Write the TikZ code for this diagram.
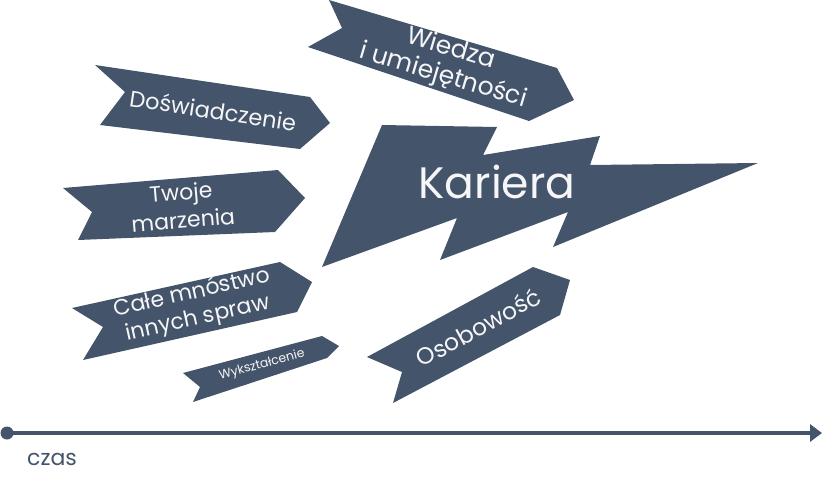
\documentclass[tikz,border=0pt]{standalone}
\usepackage{fontspec}
\setmainfont{Poppins}
\usetikzlibrary{arrows.meta}
\definecolor{slate}{HTML}{44546A}
\tikzset{
  banner/.style={fill=slate, draw=none},
  btext/.style={text=white!95!slate, align=center, inner sep=0pt},
}
\begin{document}
\begin{tikzpicture}[x=1pt,y=-1pt]
\useasboundingbox (0,0) rectangle (840,480);
% Wiedza
\fill[banner] (329,0) -- (557,68) -- (574,100) -- (529,121) -- (308,47) -- (342,28) -- cycle;
\node[btext, rotate=-16.5, font=\fontsize{25}{28}\selectfont] (wiedza) at (447,63) {Wiedza\\i umiejętności};
% Doswiadczenie
\fill[banner] (95,65) -- (310,97) -- (330,123) -- (300,149) -- (100,125) -- (125,92) -- cycle;
\node[btext, rotate=-8.5, font=\fontsize{22.5}{25}\selectfont] (dosw) at (213,110) {Doświadczenie};
% Twoje marzenia
\fill[banner] (63,188) -- (278,170) -- (305,198) -- (275,232) -- (78,240) -- (92,212) -- cycle;
\node[btext, rotate=4.8, font=\fontsize{22}{28}\selectfont] (marz) at (182,206) {Twoje\\marzenia};
% Cale mnostwo
\fill[banner] (72,308) -- (280,262) -- (312,282) -- (297,312) -- (83,360) -- (103,327) -- cycle;
\node[btext, rotate=12.5, font=\fontsize{22}{26}\selectfont] (cale) at (195,306) {Całe mnóstwo\\innych spraw};
% Wyksztalcenie
\fill[banner] (183,373) -- (322,336) -- (339,346) -- (327,358) -- (193,402) -- (200,387) -- cycle;
\node[btext, rotate=15.3, font=\fontsize{12.5}{14}\selectfont] (wyk) at (262,365) {Wykształcenie};
% Osobowosc
\fill[banner] (367,357) -- (533,267) -- (570,280) -- (560,315) -- (393,403) -- (402,372) -- cycle;
\node[btext, rotate=28.5, font=\fontsize{23.5}{26}\selectfont] (osob) at (478,327) {Osobowość};
% Kariera lightning
\fill[banner] (382,125) -- (497,127) -- (483,155) -- (600,136) -- (590,165) -- (758,163)
  -- (553,247) -- (568,212) -- (440,260) -- (457,218) -- (322,267) -- cycle;
\node[btext, font=\fontsize{44}{48}\selectfont] (kariera) at (497,182) {Kariera};
% time axis
\coordinate (t0) at (7,433);
\coordinate (t1) at (822,433);
\draw[slate, line width=4.5pt, -{Triangle[length=12pt,width=17pt]}] (t0) -- (t1);
\fill[slate] (t0) circle (6.5);
\node[text=slate, anchor=west, inner sep=0pt, font=\fontsize{22}{24}\selectfont] (czas) at (27,459) {czas};
\end{tikzpicture}
\end{document}
